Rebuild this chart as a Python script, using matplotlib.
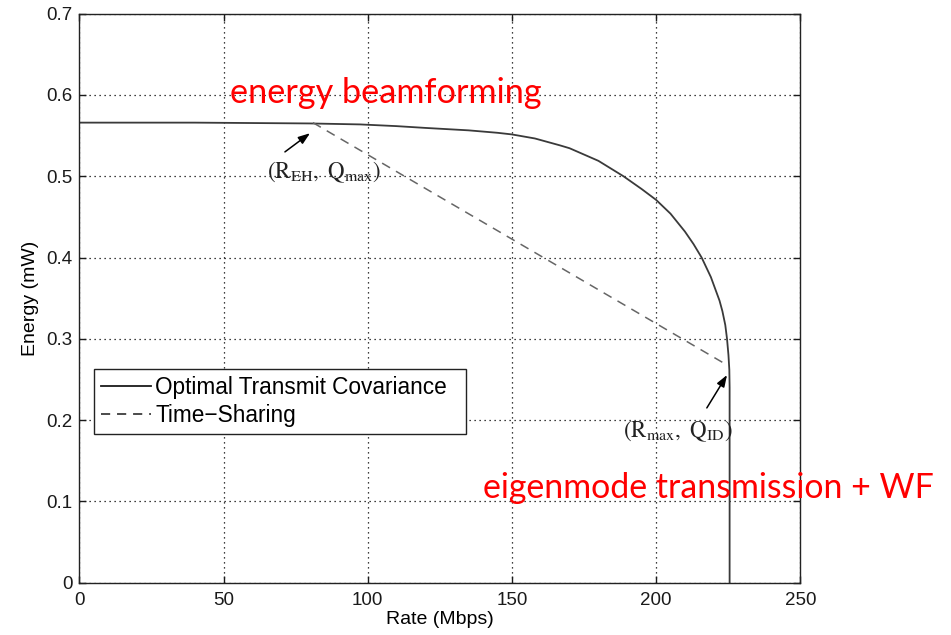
import matplotlib
matplotlib.use("Agg")
import matplotlib.pyplot as plt

## data
rate_opt = [0, 40, 80, 97.4, 110, 120, 135, 145, 150, 158, 166.7, 170, 180, 188.7,
            195, 200, 205, 210, 213, 215.8, 219, 222, 223, 224, 224.6, 225.1,
            225.4, 225.5, 225.5]
energy_opt = [0.566, 0.566, 0.565, 0.5638, 0.5617, 0.5595, 0.5565, 0.5535, 0.5515,
              0.5465, 0.538, 0.5345, 0.519, 0.5, 0.4843, 0.471, 0.454, 0.432, 0.4165,
              0.4, 0.376, 0.347, 0.334, 0.317, 0.3, 0.28, 0.262, 0.24, 0.0]
rate_ts = [81, 224.5]
energy_ts = [0.566, 0.268]

xticks = [0, 50, 100, 150, 200, 250]
yticks = [0, 0.1, 0.2, 0.3, 0.4, 0.5, 0.6, 0.7]
ytick_labels = ["0", "0.1", "0.2", "0.3", "0.4", "0.5", "0.6", "0.7"]

## arrow (tail, head) pairs
arrow_eh = ((71.3, 0.530), (80.0, 0.553))
arrow_id = ((217.6, 0.215), (224.6, 0.2555))

plt.rcParams["font.family"] = ["Liberation Sans", "DejaVu Sans"]
plt.rcParams["mathtext.fontset"] = "stix"

fig = plt.figure(figsize=(9.51, 6.35), dpi=100)
ax = fig.add_axes([0.0834, 0.0824, 0.7581, 0.8960])

## grid (matlab style dotted)
ax.set_axisbelow(True)
ax.grid(True, color="black", linestyle=(0, (1, 3)), linewidth=0.9)

ax.plot(rate_opt, energy_opt, color="#3a3a3a", linewidth=1.3,
        label="Optimal Transmit Covariance")
ax.plot(rate_ts, energy_ts, color="#666666", linewidth=1.1,
        linestyle=(0, (6, 4.5)), label="Time\u2212Sharing")

ax.set_xlim(0, 250)
ax.set_ylim(0, 0.7)
ax.set_xticks(xticks)
ax.set_yticks(yticks)
ax.set_yticklabels(ytick_labels)
ax.tick_params(direction="in", top=True, right=True, length=5, width=1,
               labelsize=13.5, colors="#1a1a1a")
ax.tick_params(axis="x", pad=7)
ax.tick_params(axis="y", pad=5)
for sp in ax.spines.values():
    sp.set_linewidth(1.0)
    sp.set_color("#222222")

ax.set_xlabel("Rate (Mbps)", fontsize=14, labelpad=1)
ax.set_ylabel("Energy (mW)", fontsize=14, labelpad=5)

## legend box stretched to the reference width
leg = ax.legend(loc="upper left", bbox_to_anchor=(0.0204, 0.2631, 0.516, 0.1125),
                mode="expand", borderaxespad=0, fancybox=False, fontsize=16.3,
                handlelength=2.2, handletextpad=0.2, borderpad=0.3,
                labelspacing=0.22, framealpha=1)
leg.get_frame().set_edgecolor("#222222")
leg.get_frame().set_linewidth(1.0)
for ln in leg.get_lines():
    ln.set_color("#1a1a1a")

## arrows + point labels
arrow_kw = dict(arrowstyle="-|>,head_length=0.7,head_width=0.25",
                color="black", linewidth=1.1, shrinkA=0, shrinkB=0)
ax.annotate("", xy=arrow_eh[1], xytext=arrow_eh[0], arrowprops=arrow_kw)
ax.annotate("", xy=arrow_id[1], xytext=arrow_id[0], arrowprops=arrow_kw)
ax.text(65.1, 0.4978, r"$\mathrm{(R_{EH},\ Q_{max})}$", fontsize=16.5,
        ha="left", va="baseline", color="#222222")
ax.text(188.5, 0.179, r"$\mathrm{(R_{max},\ Q_{ID})}$", fontsize=16.5,
        ha="left", va="baseline", color="#222222")

## red overlay text
ax.text(52.2, 0.590, "energy beamforming", family=["Lato", "DejaVu Sans"],
        fontsize=24.7, color="red", ha="left", va="baseline", clip_on=False)
ax.text(140.0, 0.104, "eigenmode transmission + WF", family=["Lato", "DejaVu Sans"],
        fontsize=24.4, color="red", ha="left", va="baseline", clip_on=False)

fig.savefig("out.png", dpi=100)
